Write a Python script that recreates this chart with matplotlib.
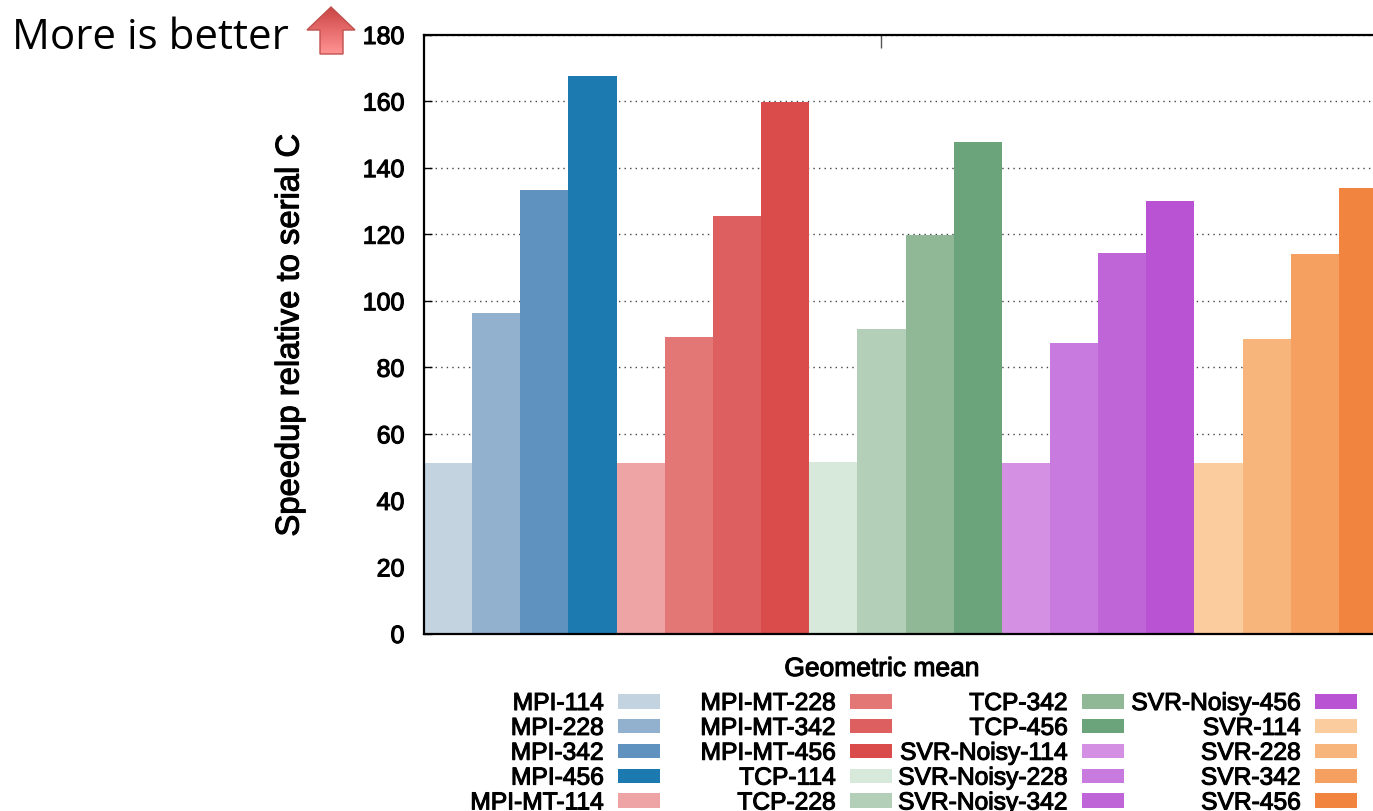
import matplotlib
matplotlib.use('Agg')
import matplotlib.pyplot as plt
import matplotlib.patheffects as pe
from matplotlib.patches import Polygon
import numpy as np

plt.rcParams['font.family'] = ['Liberation Sans', 'DejaVu Sans']

# bar order as in the legend
series = ['MPI-114', 'MPI-228', 'MPI-342', 'MPI-456',
          'MPI-MT-114', 'MPI-MT-228', 'MPI-MT-342', 'MPI-MT-456',
          'TCP-114', 'TCP-228', 'TCP-342', 'TCP-456',
          'SVR-Noisy-114', 'SVR-Noisy-228', 'SVR-Noisy-342', 'SVR-Noisy-456',
          'SVR-114', 'SVR-228', 'SVR-342', 'SVR-456']
speedup = [51.2, 96.2, 133.4, 167.4,
           51.3, 89.1, 125.6, 159.6,
           51.5, 91.5, 119.6, 147.8,
           51.1, 87.3, 114.3, 130.0,
           51.2, 88.4, 114.0, 133.9]
colors = ['#c3d4e0', '#92b1cf', '#5f92bf', '#1c7ab0',
          '#eea4a5', '#e27776', '#de5f5f', '#da4b4b',
          '#d7e9db', '#b3cfb7', '#90b896', '#6ba37a',
          '#d491e3', '#c87adf', '#c065d8', '#b953d3',
          '#fbcc9e', '#f7b47b', '#f59f60', '#f1853f']
yticks = [0, 20, 40, 60, 80, 100, 120, 140, 160, 180]

W, H = 1373, 812
heavy = [pe.withStroke(linewidth=0.8, foreground='black')]

fig = plt.figure(figsize=(W / 100, H / 100), dpi=100)
# the plot runs past the right edge of the figure, as in the original
ax = fig.add_axes([424 / W, 1 - 634.5 / H, 963 / W, 599 / H])

x = np.arange(len(series))
bars = ax.bar(x, speedup, width=1.0, color=colors, label=series, zorder=3)

ax.set_xlim(-0.5, len(series) - 0.5)
ax.set_ylim(0, 180)
ax.set_yticks(yticks)
ax.yaxis.grid(True, linestyle=(0, (1, 3)), color='#444444', linewidth=1.0)
ax.set_axisbelow(True)
ax.tick_params(axis='y', direction='in', length=6, width=1, labelsize=18, pad=14)
ax.set_xticks([9])
ax.set_xticklabels([''])
ax.tick_params(axis='x', top=True, bottom=False, direction='in', length=9, width=1, color='#555555')
for s in ax.spines.values():
    s.set_linewidth(1.6)
    s.set_zorder(5)
for t in ax.get_yticklabels():
    t.set_path_effects(heavy)

ylab = fig.text(290 / W, 1 - 336 / H, 'Speedup relative to serial C', rotation=90,
                ha='center', va='center', fontsize=23.6)
ylab.set_path_effects(heavy)
xlab = fig.text(882 / W, 1 - 670 / H, 'Geometric mean', ha='center', va='center', fontsize=19)
xlab.set_path_effects(heavy)

# one legend per column so the columns stay evenly spaced
for c, right in enumerate([660, 892, 1124, 1357]):
    idx = range(c * 5, c * 5 + 5)
    leg = fig.legend([bars[i] for i in idx], [series[i] for i in idx],
                     loc='upper right', bbox_to_anchor=(right / W, 1 - 692 / H),
                     bbox_transform=fig.transFigure, frameon=False, markerfirst=False,
                     fontsize=17.7, borderpad=0, borderaxespad=0, labelspacing=0.035,
                     handlelength=1.71, handleheight=0.53, handletextpad=0.57)
    for t in leg.get_texts():
        t.set_path_effects(heavy)

fig.text(12 / W, 1 - 38 / H, 'More is better', family='Open Sans', fontsize=30.3,
         ha='left', va='center', color='black')

# gradient arrow
aax = fig.add_axes([0, 0, 1, 1], zorder=10)
aax.set_xlim(0, W)
aax.set_ylim(H, 0)
aax.axis('off')
arrow = [(331, 8), (355, 31), (343, 31), (343, 55), (320, 55), (320, 31), (307, 31)]
grad = np.linspace(0, 1, 100).reshape(-1, 1)
cmap = matplotlib.colors.LinearSegmentedColormap.from_list('arrow', ['#c84545', '#e86c6c', '#ff9494'])
im = aax.imshow(grad, extent=(307, 355, 55, 8), cmap=cmap, aspect='auto')
poly = Polygon(arrow, closed=True, facecolor='none', edgecolor='#c0504d', linewidth=1)
aax.add_patch(poly)
im.set_clip_path(poly)
aax.set_xlim(0, W)
aax.set_ylim(H, 0)

fig.savefig('out.png', dpi=100)
